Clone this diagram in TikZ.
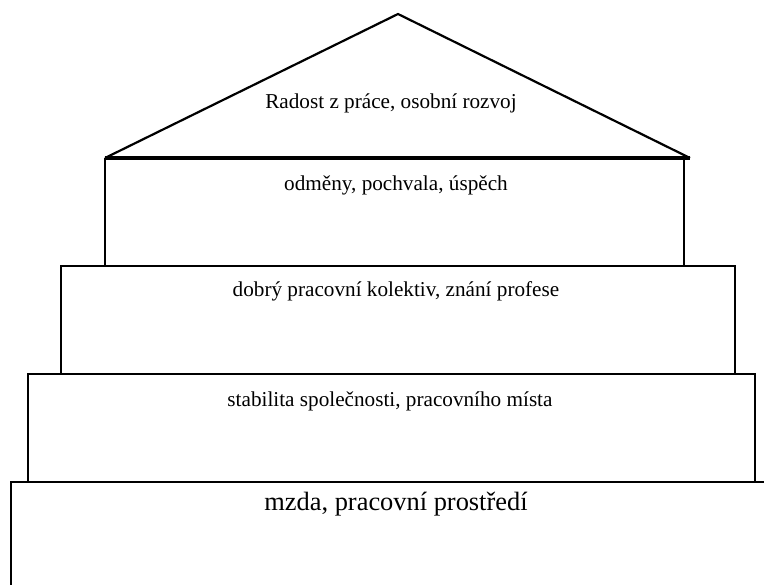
\documentclass[tikz,border=0pt]{standalone}
\usepackage{fontspec}
\setmainfont{Liberation Serif}
\usetikzlibrary{positioning}

\begin{document}
\begin{tikzpicture}[x=1pt,y=1pt]
            \tikzstyle{level}=[rectangle,draw,line width=2.2pt,inner sep=0pt,anchor=north west]
            \tikzstyle{caption}=[font=\fontsize{21.2}{25}\selectfont]
            \tikzstyle{base}=[font=\fontsize{26.4}{31}\selectfont]

            \useasboundingbox (0,0) rectangle (764,-585);
            \clip (0,0) rectangle (764,-585);

            % roof
            \coordinate (apex) at (398,-14);
            \coordinate (eaveL) at (105,-158);
            \coordinate (eaveR) at (690,-158);
            \draw[line width=2.2pt,line join=miter] (eaveL) -- (apex) -- (eaveR);
            \draw[line width=4.5pt] (eaveL) -- (eaveR);

            % floors
            \node[level,minimum width=579pt,minimum height=107pt] (f1) at (104,-158) {};
            \node[level,minimum width=674pt,minimum height=108pt] (f2) at (60,-265) {};
            \node[level,minimum width=727pt,minimum height=108pt] (f3) at (27,-373) {};
            \node[level,minimum width=780pt,minimum height=120pt] (f4) at (10,-481) {};

            \node[caption] (roof) at (391,-103) {Radost z práce, osobní rozvoj};
            \node[caption] (t1) at (396,-185) {odměny, pochvala, úspěch};
            \node[caption] (t2) at (396,-291) {dobrý pracovní kolektiv, znání profese};
            \node[caption] (t3) at (390,-401) {stabilita společnosti, pracovního místa};
            \node[base] (t4) at (396,-504) {mzda, pracovní prostředí};
        \end{tikzpicture}
\end{document}
